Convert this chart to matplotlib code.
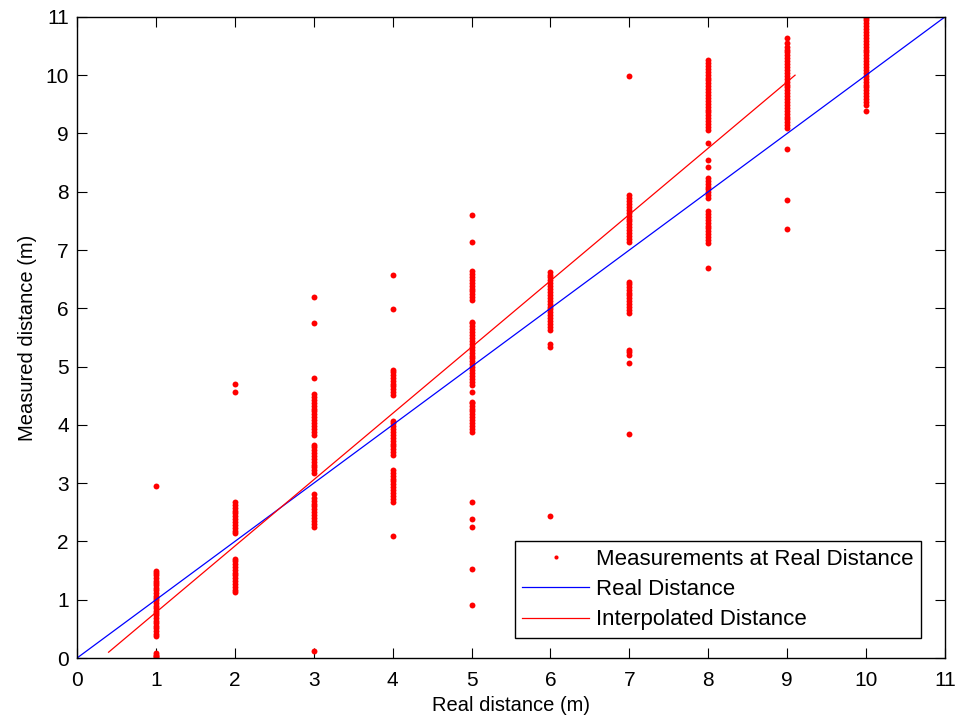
import matplotlib
matplotlib.use("Agg")
import matplotlib.pyplot as plt

plt.rcParams['font.family'] = ['Liberation Sans', 'DejaVu Sans']

# measured distances (m) grouped by real distance (m)
real_dist = [1, 2, 3, 4, 5, 6, 7, 8, 9, 10]
meas_1 = [0.02, 0.04, 0.06, 0.09,
          0.38, 0.42, 0.47, 0.51, 0.55, 0.60, 0.64, 0.68, 0.73, 0.77, 0.81, 0.86, 0.90, 0.94,
          0.99, 1.03, 1.07, 1.12, 1.16, 1.20, 1.25, 1.29, 1.33, 1.38, 1.42, 1.46, 1.50,
          2.95]
meas_2 = [1.13, 1.17, 1.22, 1.27, 1.32, 1.37, 1.42, 1.46, 1.51, 1.56, 1.61, 1.66, 1.70,
          2.14, 2.18, 2.23, 2.28, 2.33, 2.38, 2.43, 2.48, 2.53, 2.58, 2.63, 2.68,
          4.56, 4.71]
meas_3 = [0.12,
          2.25, 2.30, 2.35, 2.40, 2.45, 2.50, 2.55, 2.60, 2.65, 2.70, 2.75, 2.81,
          3.17, 3.22, 3.27, 3.32, 3.37, 3.42, 3.47, 3.52, 3.57, 3.62, 3.66,
          3.83, 3.88, 3.93, 3.98, 4.03, 4.08, 4.13, 4.18, 4.23, 4.28, 4.33, 4.38, 4.43, 4.48, 4.53,
          4.80, 5.75, 6.19]
meas_4 = [2.10,
          2.68, 2.73, 2.78, 2.83, 2.88, 2.93, 2.98, 3.03, 3.08, 3.13, 3.18, 3.22,
          3.48, 3.53, 3.58, 3.63, 3.68, 3.73, 3.78, 3.83, 3.88, 3.93, 3.98, 4.03, 4.06,
          4.51, 4.56, 4.61, 4.66, 4.71, 4.76, 4.81, 4.86, 4.91, 4.94,
          5.98, 6.58]
meas_5 = [0.91, 1.53, 2.24, 2.38, 2.67,
          3.88, 3.93, 3.98, 4.03, 4.08, 4.13, 4.18, 4.23, 4.28, 4.33, 4.38, 4.40,
          4.57,
          4.69, 4.74, 4.79, 4.84, 4.89, 4.94, 4.99, 5.04, 5.09, 5.14, 5.19, 5.24, 5.29, 5.34,
          5.39, 5.44, 5.49, 5.54, 5.59, 5.64, 5.69, 5.74, 5.77,
          6.14, 6.19, 6.24, 6.29, 6.34, 6.39, 6.44, 6.49, 6.54, 6.59, 6.64,
          7.14, 7.60]
meas_6 = [2.44, 5.33, 5.39,
          5.63, 5.68, 5.73, 5.78, 5.83, 5.88, 5.93, 5.98, 6.03, 6.08, 6.13, 6.18, 6.23, 6.28,
          6.33, 6.38, 6.43, 6.48, 6.53, 6.58, 6.63]
meas_7 = [3.84, 5.07, 5.20, 5.25, 5.29,
          5.92, 5.97, 6.02, 6.07, 6.12, 6.17, 6.22, 6.27, 6.32, 6.37, 6.42, 6.46,
          7.14, 7.19, 7.24, 7.29, 7.34, 7.39, 7.44, 7.49, 7.54, 7.59, 7.64, 7.69, 7.74, 7.79,
          7.84, 7.89, 7.94,
          9.99]
meas_8 = [6.70,
          7.12, 7.17, 7.22, 7.27, 7.32, 7.37, 7.42, 7.47, 7.52, 7.57, 7.62, 7.67,
          7.89, 7.94, 7.99, 8.04, 8.09, 8.14, 8.19, 8.24,
          8.42, 8.55, 8.83,
          9.06, 9.11, 9.16, 9.21, 9.26, 9.31, 9.36, 9.41, 9.46, 9.51, 9.56, 9.61, 9.66, 9.71,
          9.76, 9.81, 9.86, 9.91, 9.96, 10.01, 10.06, 10.11, 10.16, 10.21, 10.26]
meas_9 = [7.36, 7.86, 8.73,
          9.09, 9.14, 9.19, 9.24, 9.29, 9.34, 9.39, 9.44, 9.49, 9.54, 9.59, 9.64, 9.69, 9.74,
          9.79, 9.84, 9.89, 9.94, 9.99, 10.04, 10.09, 10.14, 10.19, 10.24, 10.29, 10.34, 10.39,
          10.44, 10.49, 10.55, 10.63]
meas_10 = [9.38,
           9.49, 9.54, 9.59, 9.64, 9.69, 9.74, 9.79, 9.84, 9.89, 9.94, 9.99, 10.04, 10.09,
           10.14, 10.19, 10.24, 10.29, 10.34, 10.39, 10.44, 10.49, 10.54, 10.59, 10.64, 10.69,
           10.74, 10.79, 10.84, 10.89, 10.94, 10.98]
measurements = [meas_1, meas_2, meas_3, meas_4, meas_5, meas_6, meas_7, meas_8, meas_9, meas_10]

real_line_x = [0, 11]
real_line_y = [0, 11]
interp_x = [0.4, 9.1]
interp_y = [0.1, 10.0]

xs, ys = [], []
for d, vals in zip(real_dist, measurements):
    xs += [d] * len(vals)
    ys += vals

fig = plt.figure(figsize=(9.58, 7.22), dpi=100)
ax = fig.add_axes([0.0804, 0.0886, 0.906, 0.888])

ax.plot(xs, ys, '.', color='red', markersize=8.5, markeredgewidth=0,
        label='Measurements at Real Distance')
ax.plot(real_line_x, real_line_y, color='blue', lw=0.9, label='Real Distance')
ax.plot(interp_x, interp_y, color='red', lw=0.9, label='Interpolated Distance')

ax.set_xlim(0, 11)
ax.set_ylim(0, 11)
ax.set_xticks(range(0, 12))
ax.set_yticks(range(0, 12))
ax.tick_params(direction='in', top=True, right=True, length=7, width=0.8,
               labelsize=15, colors='black', pad=6)
ax.tick_params(axis='x', pad=9)
for s in ax.spines.values():
    s.set_linewidth(1.0)
ax.set_xlabel('Real distance (m)', fontsize=14.5, labelpad=5)
ax.set_ylabel('Measured distance (m)', fontsize=14.5, labelpad=6)

leg = ax.legend(loc='lower right', bbox_to_anchor=(0.9725, 0.031), fontsize=16,
                frameon=True, fancybox=False, edgecolor='black', framealpha=1,
                handlelength=3.0, borderpad=0.35, labelspacing=0.42, handletextpad=0.3,
                borderaxespad=0, markerscale=0.7)
leg.get_frame().set_linewidth(1.0)

fig.savefig('out.png', dpi=100)
